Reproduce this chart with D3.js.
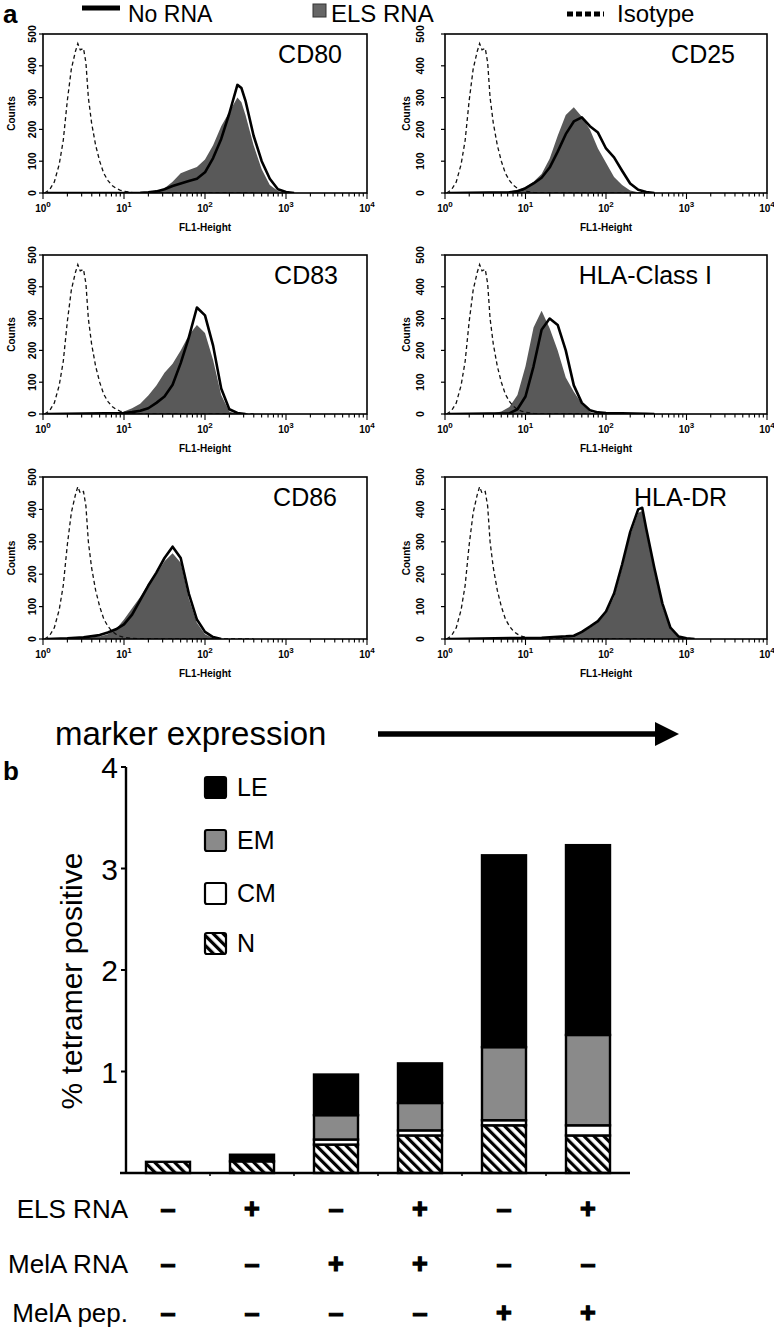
<!DOCTYPE html>
<html><head><meta charset="utf-8">
<script src="https://cdn.jsdelivr.net/npm/d3@7/dist/d3.min.js"></script>
<style>body{margin:0;background:#fff} svg{display:block}</style>
</head><body>
<svg id="c" width="774" height="1330"></svg>
<script>
// ---------------- DATA (panel a: [log10 FL1-Height, counts]) ----------------
const markers = ["CD80", "CD25", "CD83", "HLA-Class I", "CD86", "HLA-DR"];
const isotype = [[0.02,0],[0.08,10],[0.14,35],[0.2,90],[0.25,165],[0.3,290],[0.35,390],[0.4,445],[0.43,470],[0.46,450],[0.5,455],[0.53,410],[0.56,300],[0.6,220],[0.65,150],[0.7,100],[0.75,62],[0.8,40],[0.85,24],[0.9,15],[0.95,9],[1.0,5],[1.1,2],[1.2,0],[2.6,0]];
const noRNA_CD80 = [[0.05,0],[1.2,1],[1.3,2],[1.4,5],[1.5,12],[1.6,22],[1.7,30],[1.8,38],[1.9,45],[2.0,65],[2.1,110],[2.2,170],[2.3,250],[2.4,340],[2.45,330],[2.5,290],[2.6,180],[2.7,100],[2.8,45],[2.9,12],[3.0,3],[3.1,0]];
const els_CD80 = [[1.3,0],[1.4,5],[1.5,15],[1.6,35],[1.7,62],[1.8,72],[1.9,82],[2.0,105],[2.1,150],[2.2,210],[2.3,255],[2.4,300],[2.45,285],[2.5,245],[2.6,150],[2.7,75],[2.8,25],[2.9,6],[3.0,0]];
const noRNA_CD25 = [[0.05,0],[0.8,2],[0.9,5],[1.0,15],[1.1,30],[1.2,48],[1.3,80],[1.4,130],[1.5,185],[1.6,225],[1.7,238],[1.8,210],[1.9,190],[2.0,140],[2.1,112],[2.2,70],[2.3,30],[2.4,10],[2.5,3],[2.6,0]];
const els_CD25 = [[0.7,0],[0.8,5],[0.9,10],[1.0,18],[1.1,35],[1.2,60],[1.3,108],[1.4,180],[1.5,245],[1.6,270],[1.7,240],[1.8,200],[1.9,140],[2.0,95],[2.1,50],[2.2,25],[2.3,8],[2.4,2],[2.5,0]];
const noRNA_CD83 = [[0.05,0],[1.0,3],[1.1,6],[1.2,10],[1.3,18],[1.4,35],[1.5,55],[1.6,92],[1.7,160],[1.8,240],[1.9,335],[2.0,310],[2.1,215],[2.2,80],[2.3,15],[2.4,3],[2.5,0]];
const els_CD83 = [[0.9,0],[1.0,8],[1.1,18],[1.2,32],[1.3,58],[1.4,90],[1.5,130],[1.6,158],[1.7,200],[1.8,248],[1.9,280],[2.0,255],[2.1,170],[2.2,60],[2.3,8],[2.4,0]];
const noRNA_HLAI = [[0.05,0],[0.8,2],[0.9,15],[1.0,55],[1.1,150],[1.2,265],[1.3,300],[1.4,280],[1.5,200],[1.6,90],[1.7,35],[1.8,12],[1.9,5],[2.0,3],[2.2,2],[2.5,1],[2.6,0]];
const els_HLAI = [[0.5,0],[0.6,2],[0.7,8],[0.8,22],[0.9,60],[1.0,150],[1.1,272],[1.2,325],[1.3,270],[1.4,200],[1.5,115],[1.6,70],[1.7,32],[1.8,6],[1.9,0]];
const noRNA_CD86 = [[0.05,0],[0.3,2],[0.5,5],[0.7,12],[0.8,20],[0.9,30],[1.0,45],[1.1,75],[1.2,120],[1.3,165],[1.4,205],[1.5,250],[1.6,285],[1.7,250],[1.8,140],[1.9,60],[2.0,22],[2.1,6],[2.2,0]];
const els_CD86 = [[0.4,0],[0.5,3],[0.7,8],[0.8,15],[0.9,30],[1.0,60],[1.1,95],[1.2,130],[1.3,170],[1.4,200],[1.5,240],[1.6,265],[1.7,235],[1.8,125],[1.9,50],[2.0,15],[2.1,2],[2.2,0]];
const noRNA_HLADR = [[0.05,0],[0.9,3],[1.2,4],[1.5,8],[1.6,10],[1.7,22],[1.8,38],[1.9,55],[2.0,85],[2.1,140],[2.2,230],[2.3,330],[2.4,400],[2.45,405],[2.5,340],[2.6,220],[2.7,110],[2.8,35],[2.9,8],[3.0,2],[3.1,0]];
const els_HLADR = [[1.4,0],[1.5,5],[1.6,10],[1.7,20],[1.8,35],[1.9,52],[2.0,80],[2.1,130],[2.2,220],[2.3,320],[2.4,390],[2.45,395],[2.5,330],[2.6,210],[2.7,100],[2.8,30],[2.9,6],[3.0,0]];
const noRNAseries = [noRNA_CD80, noRNA_CD25, noRNA_CD83, noRNA_HLAI, noRNA_CD86, noRNA_HLADR];
const elsSeries = [els_CD80, els_CD25, els_CD83, els_HLAI, els_CD86, els_HLADR];
const countTicks = [0, 100, 200, 300, 400, 500];
const decadeTicks = [1, 10, 100, 1000, 10000];
const legendA = ["No RNA", "ELS RNA", "Isotype"];

// ---------------- DATA (panel b) ----------------
const groups = ["G1", "G2", "G3", "G4", "G5", "G6"];
const subsetKeys = ["N", "CM", "EM", "LE"];
const valN  = [0.11, 0.115, 0.28, 0.37, 0.47, 0.37];
const valCM = [0.00, 0.00, 0.05, 0.05, 0.05, 0.10];
const valEM = [0.00, 0.00, 0.24, 0.27, 0.72, 0.89];
const valLE = [0.00, 0.065, 0.40, 0.39, 1.89, 1.87];
const pctTicks = [1, 2, 3, 4];
const rowLabels = ["ELS RNA", "MelA RNA", "MelA pep."];
const signELS  = ["–", "+", "–", "+", "–", "+"];
const signMelA = ["–", "–", "+", "+", "–", "–"];
const signPep  = ["–", "–", "–", "–", "+", "+"];

// ---------------- LAYOUT ----------------
const FONT = "'Liberation Sans', Arial, Helvetica, sans-serif";
const svg = d3.select("#c");
const defs = svg.append("defs");

const cols = [{x0: 43, x1: 367, numX: 36, cntX: 15}, {x0: 445, x1: 767, numX: 424, cntX: 410}];
const rows = [{t: 34, b: 193}, {t: 255, b: 414}, {t: 477, b: 639}];
const labelRightOffset = [25, 32, 29, 55, 30, 40];

markers.forEach((m, i) => {
  const c = cols[i % 2], r = rows[Math.floor(i / 2)];
  const x = d3.scaleLog().domain([1, 10000]).range([c.x0, c.x1]);
  const y = d3.scaleLinear().domain([0, 500]).range([r.b, r.t]);
  const g = svg.append("g");
  const cid = "clip" + i;
  defs.append("clipPath").attr("id", cid).append("rect")
    .attr("x", c.x0).attr("y", r.t).attr("width", c.x1 - c.x0).attr("height", r.b - r.t);
  const px = d => x(Math.pow(10, d[0]));
  const area = d3.area().x(px).y0(y(0)).y1(d => y(d[1]));
  const line = d3.line().x(px).y(d => y(d[1]));
  const pg = g.append("g").attr("clip-path", `url(#${cid})`);
  pg.append("path").datum(elsSeries[i]).attr("d", area).attr("fill", "#595959");
  pg.append("path").datum(isotype).attr("d", line).attr("fill", "none")
    .attr("stroke", "#111").attr("stroke-width", 1.3).attr("stroke-dasharray", "4,3");
  pg.append("path").datum(noRNAseries[i]).attr("d", line).attr("fill", "none")
    .attr("stroke", "#000").attr("stroke-width", 2.6).attr("stroke-linejoin", "round");
  g.append("rect").attr("x", c.x0).attr("y", r.t).attr("width", c.x1 - c.x0).attr("height", r.b - r.t)
    .attr("fill", "none").attr("stroke", "#000").attr("stroke-width", 1.6);
  countTicks.forEach(v => {
    g.append("line").attr("x1", c.x0 - 4).attr("x2", c.x0).attr("y1", y(v)).attr("y2", y(v))
      .attr("stroke", "#000").attr("stroke-width", 1.2);
    g.append("text").attr("transform", `translate(${c.numX},${y(v)}) rotate(-90)`)
      .attr("text-anchor", "middle").attr("font-family", FONT).attr("font-size", 10.5)
      .attr("font-weight", "bold").text(v);
  });
  g.append("text").attr("transform", `translate(${c.cntX},${(r.t + r.b) / 2}) rotate(-90)`)
    .attr("text-anchor", "middle").attr("font-family", FONT).attr("font-size", 10)
    .attr("font-weight", "bold").text("Counts");
  x.ticks().forEach(v => {
    const major = decadeTicks.includes(v);
    g.append("line").attr("x1", x(v)).attr("x2", x(v)).attr("y1", r.b).attr("y2", r.b + (major ? 6 : 3.5))
      .attr("stroke", "#000").attr("stroke-width", 1.1);
  });
  decadeTicks.forEach(v => {
    const t = g.append("text").attr("x", x(v)).attr("y", r.b + 19).attr("text-anchor", "middle")
      .attr("font-family", FONT).attr("font-size", 10).attr("font-weight", "bold");
    t.append("tspan").text("10");
    t.append("tspan").attr("dy", -5).attr("font-size", 8).text(Math.round(Math.log10(v)));
  });
  g.append("text").attr("x", (c.x0 + c.x1) / 2).attr("y", r.b + 38).attr("text-anchor", "middle")
    .attr("font-family", FONT).attr("font-size", 10).attr("font-weight", "bold").text("FL1-Height");
  g.append("text").attr("x", c.x1 - labelRightOffset[i]).attr("y", r.t + 29).attr("text-anchor", "end")
    .attr("font-family", FONT).attr("font-size", 25).text(m);
});

// panel a legend
svg.append("text").attr("x", 3).attr("y", 23).attr("font-family", FONT).attr("font-size", 26)
  .attr("font-weight", "bold").text("a");
svg.append("line").attr("x1", 82).attr("x2", 120).attr("y1", 8).attr("y2", 8).attr("stroke", "#000").attr("stroke-width", 5);
svg.append("text").attr("x", 128).attr("y", 22).attr("font-family", FONT).attr("font-size", 23).text(legendA[0]);
svg.append("rect").attr("x", 313).attr("y", 4).attr("width", 13).attr("height", 13).attr("fill", "#666").attr("stroke", "#333");
svg.append("text").attr("x", 331).attr("y", 22).attr("font-family", FONT).attr("font-size", 24).text(legendA[1]);
svg.append("line").attr("x1", 567).attr("x2", 604).attr("y1", 14).attr("y2", 14).attr("stroke", "#000")
  .attr("stroke-width", 5).attr("stroke-dasharray", "6,3");
svg.append("text").attr("x", 617).attr("y", 22).attr("font-family", FONT).attr("font-size", 24).text(legendA[2]);

// marker expression arrow
svg.append("text").attr("x", 55).attr("y", 745).attr("font-family", FONT).attr("font-size", 33).text("marker expression");
defs.append("marker").attr("id", "ah").attr("viewBox", "0 0 10 10").attr("refX", 0).attr("refY", 5)
  .attr("markerUnits", "userSpaceOnUse").attr("markerWidth", 24).attr("markerHeight", 24).attr("orient", "auto")
  .append("path").attr("d", "M0,0 L10,5 L0,10 Z").attr("fill", "#000");
svg.append("line").attr("x1", 378).attr("x2", 655).attr("y1", 734).attr("y2", 734)
  .attr("stroke", "#000").attr("stroke-width", 5.5).attr("marker-end", "url(#ah)");

// ---------------- PANEL b ----------------
svg.append("text").attr("x", 3).attr("y", 780).attr("font-family", FONT).attr("font-size", 26)
  .attr("font-weight", "bold").text("b");

const table = groups.map((gname, i) => ({group: gname, N: valN[i], CM: valCM[i], EM: valEM[i], LE: valLE[i]}));
const xb = d3.scaleBand().domain(groups).range([126, 630]).paddingInner(0.476).paddingOuter(0.238);
const yb = d3.scaleLinear().domain([0, 4]).range([1173, 767]);
const fills = {N: "url(#hatch)", CM: "#fff", EM: "#8a8a8a", LE: "#000"};

const pat = defs.append("pattern").attr("id", "hatch").attr("patternUnits", "userSpaceOnUse")
  .attr("width", 7).attr("height", 7).attr("patternTransform", "rotate(-45)");
pat.append("rect").attr("width", 7).attr("height", 7).attr("fill", "#fff");
pat.append("rect").attr("width", 3.2).attr("height", 7).attr("fill", "#000");

const stacked = d3.stack().keys(subsetKeys)(table);
const gb = svg.append("g");
stacked.forEach(layer => {
  gb.selectAll(null).data(layer.filter(d => d[1] - d[0] > 0)).enter().append("rect")
    .attr("x", d => xb(d.data.group)).attr("width", xb.bandwidth())
    .attr("y", d => yb(d[1])).attr("height", d => yb(d[0]) - yb(d[1]))
    .attr("fill", fills[layer.key]).attr("stroke", "#000").attr("stroke-width", 2.4);
});

gb.append("line").attr("x1", 126).attr("x2", 126).attr("y1", yb(4)).attr("y2", yb(0)).attr("stroke", "#000").attr("stroke-width", 2.4);
gb.append("line").attr("x1", 120).attr("x2", 630).attr("y1", yb(0)).attr("y2", yb(0)).attr("stroke", "#000").attr("stroke-width", 2.4);
pctTicks.forEach(v => {
  gb.append("line").attr("x1", 121).attr("x2", 126).attr("y1", yb(v)).attr("y2", yb(v)).attr("stroke", "#000").attr("stroke-width", 2);
  gb.append("text").attr("x", 118).attr("y", yb(v) + 11).attr("text-anchor", "end")
    .attr("font-family", FONT).attr("font-size", 30).text(v);
});
groups.forEach((gname, i) => {
  if (i > 0) {
    const bx = xb(gname) - xb.step() * xb.paddingInner() / 2;
    gb.append("line").attr("x1", bx).attr("x2", bx).attr("y1", yb(0)).attr("y2", yb(0) + 3).attr("stroke", "#000").attr("stroke-width", 1.5);
  }
});
gb.append("text").attr("transform", `translate(82,981) rotate(-90)`)
  .attr("text-anchor", "middle").attr("font-family", FONT).attr("font-size", 30).text("% tetramer positive");

const legTops = [777, 830, 883, 933];
subsetKeys.slice().reverse().forEach((k, i) => {
  gb.append("rect").attr("x", 205).attr("y", legTops[i]).attr("width", 21).attr("height", 21).attr("rx", 2)
    .attr("fill", fills[k]).attr("stroke", "#000").attr("stroke-width", 2.2);
  gb.append("text").attr("x", 237).attr("y", legTops[i] + 19).attr("font-family", FONT).attr("font-size", 25).text(k);
});

const signRows = [signELS, signMelA, signPep];
const rowBase = [1218, 1273, 1322];
rowLabels.forEach((lab, r) => {
  gb.append("text").attr("x", 128).attr("y", rowBase[r]).attr("text-anchor", "end")
    .attr("font-family", FONT).attr("font-size", 26).text(lab);
  signRows[r].forEach((s, i) => {
    gb.append("text").attr("x", xb(groups[i]) + xb.bandwidth() / 2).attr("y", rowBase[r])
      .attr("text-anchor", "middle").attr("font-family", FONT).attr("font-size", 27).attr("font-weight", "bold")
      .attr("stroke", "#000").attr("stroke-width", 1.2).text(s);
  });
});
</script>
</body></html>
